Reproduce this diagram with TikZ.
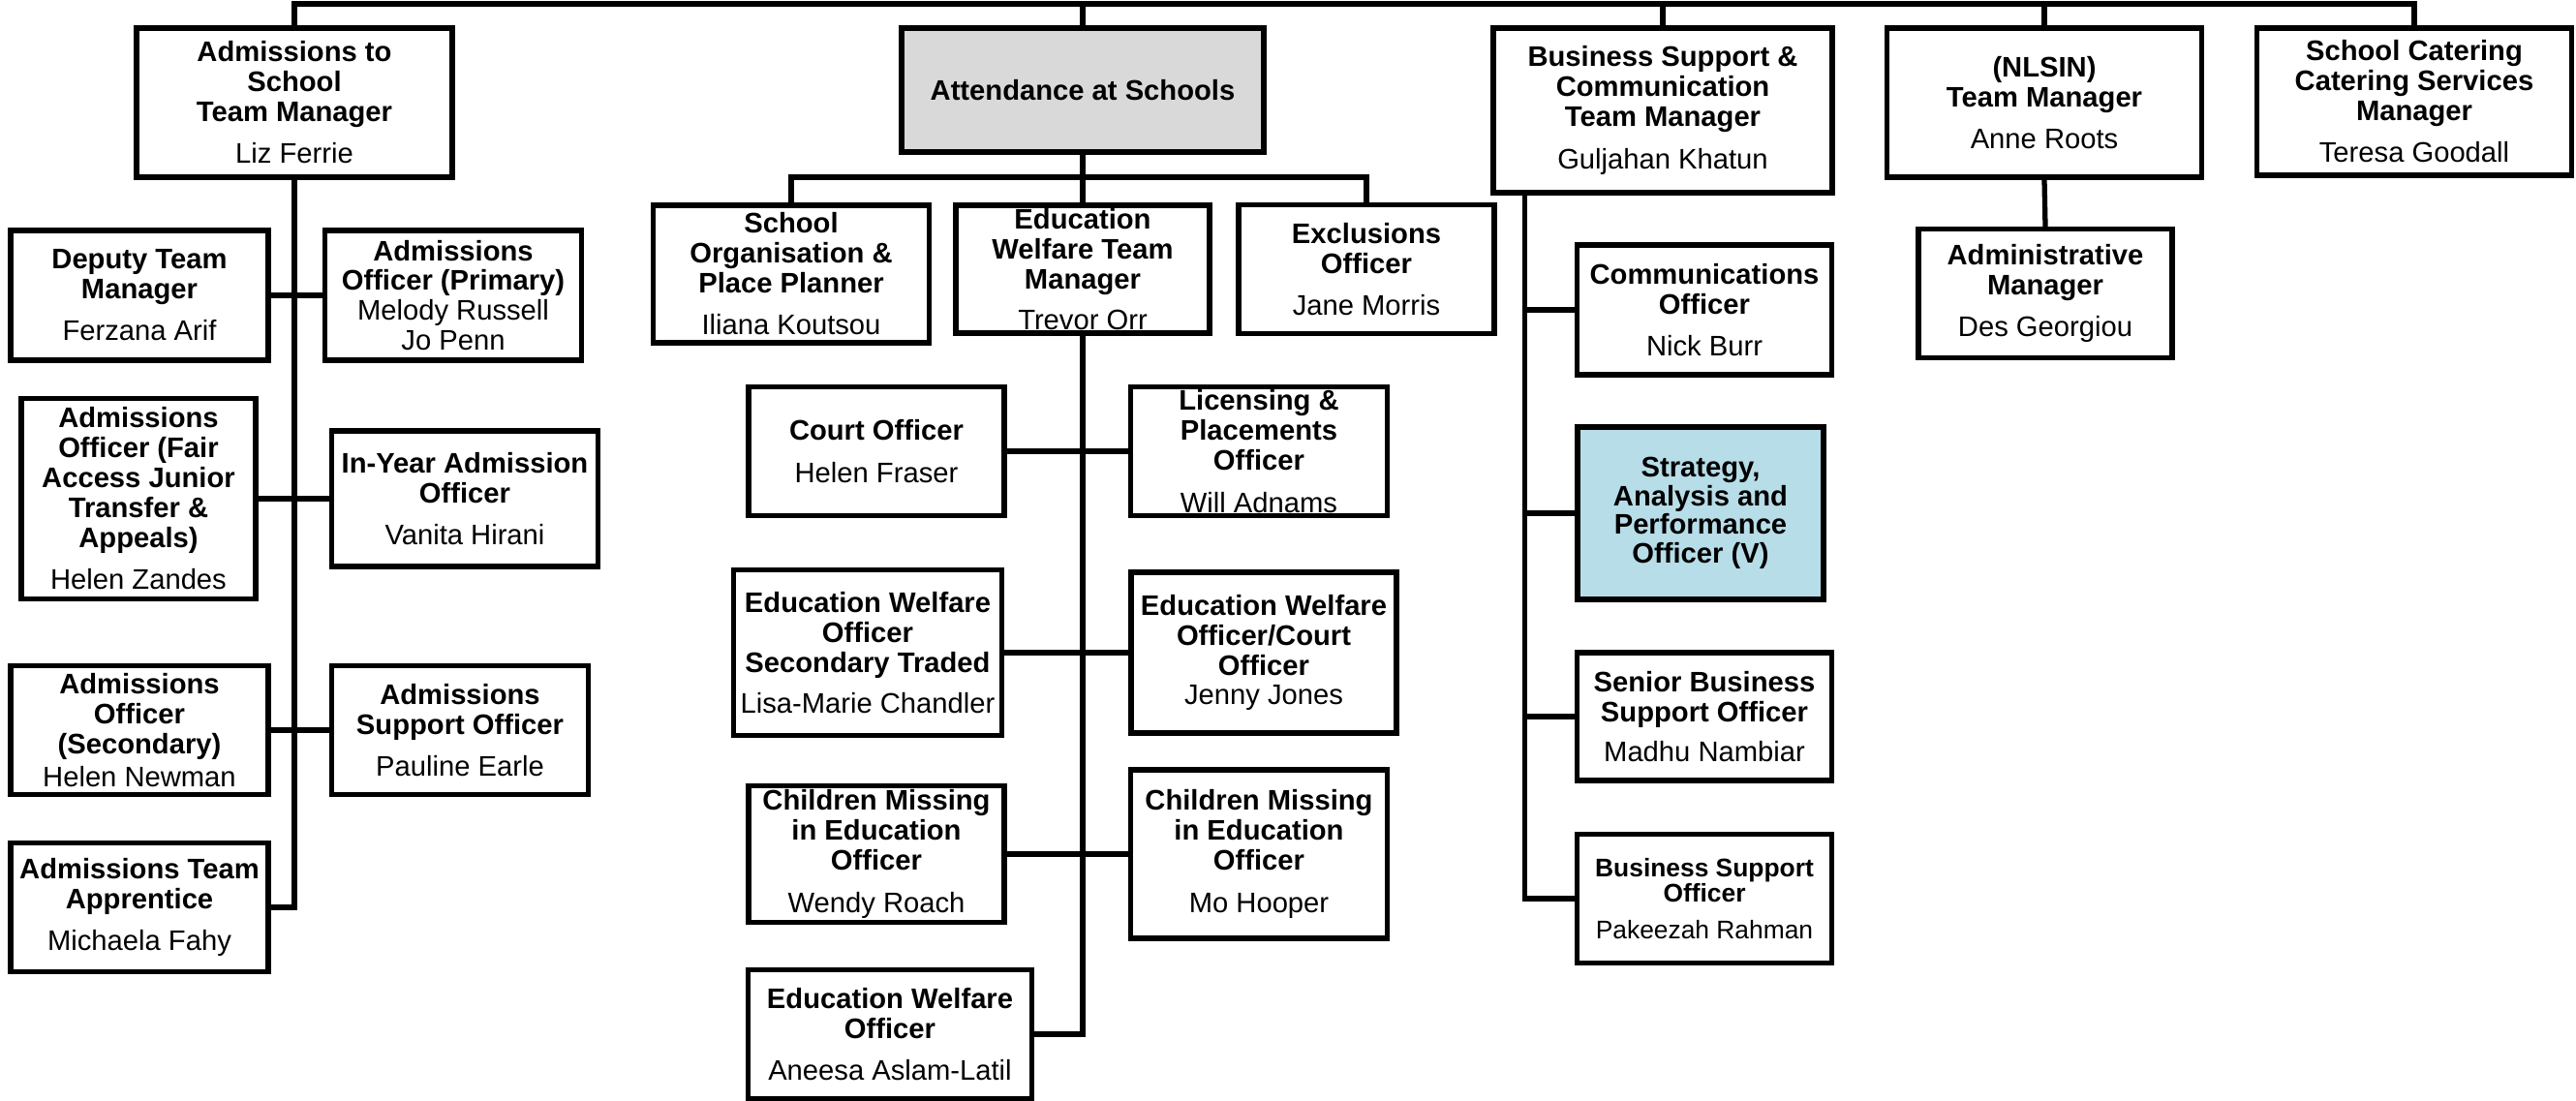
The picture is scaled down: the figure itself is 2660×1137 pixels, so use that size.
\documentclass[tikz,border=0pt]{standalone}
\usepackage{fontspec}
\setmainfont{Liberation Sans}
\definecolor{attgray}{RGB}{217,217,217}
\definecolor{sapblue}{RGB}{183,221,232}
\newcommand\who[1]{{\mdseries #1}}
\tikzset{
  post/.style={draw, line width=1.5pt, align=center, inner sep=0pt,
    font=\fontsize{8.3}{8.8}\selectfont\bfseries},
  link/.style={line width=1.5pt},
}

\begin{document}
\begin{tikzpicture}[x=0.01cm, y=-0.01cm]
            \useasboundingbox (0,0) rectangle (2660,1137);

            % Admissions
            \node[post, minimum width=3.26cm, minimum height=1.54cm] (admmgr) at (304,106) {Admissions to\\School\\Team Manager\\[3.5pt]\who{Liz Ferrie}};
            \node[post, minimum width=2.66cm, minimum height=1.34cm] (deputy) at (144,305) {Deputy Team\\Manager\\[3.5pt]\who{Ferzana Arif}};
            \node[post, minimum width=2.65cm, minimum height=1.34cm] (admprim) at (468,305) {Admissions\\Officer (Primary)\\\who{Melody Russell}\\\who{Jo Penn}};
            \node[post, minimum width=2.42cm, minimum height=2.07cm] (admfair) at (143,515) {Admissions\\Officer (Fair\\Access Junior\\Transfer \&\\Appeals)\\[3.5pt]\who{Helen Zandes}};
            \node[post, minimum width=2.75cm, minimum height=1.40cm] (inyear) at (480,515) {In-Year Admission\\Officer\\[3.5pt]\who{Vanita Hirani}};
            \node[post, minimum width=2.66cm, minimum height=1.33cm] (admsec) at (144,754) {Admissions\\Officer\\(Secondary)\\[1pt]\who{Helen Newman}};
            \node[post, minimum width=2.65cm, minimum height=1.33cm] (admsupp) at (475,754) {Admissions\\Support Officer\\[3.5pt]\who{Pauline Earle}};
            \node[post, minimum width=2.66cm, minimum height=1.33cm] (apprent) at (144,937) {Admissions Team\\Apprentice\\[3.5pt]\who{Michaela Fahy}};

            % Attendance
            \node[post, fill=attgray, minimum width=3.74cm, minimum height=1.28cm] (attend) at (1118,93) {Attendance at Schools};
            \node[post, minimum width=2.85cm, minimum height=1.42cm] (planner) at (817,283) {School\\Organisation \&\\Place Planner\\[3.5pt]\who{Iliana Koutsou}};
            \node[post, minimum width=2.62cm, minimum height=1.32cm] (ewmgr) at (1118,278) {Education\\Welfare Team\\Manager\\[3pt]\who{Trevor Orr}};
            \node[post, minimum width=2.64cm, minimum height=1.33cm] (exclus) at (1411,278) {Exclusions\\Officer\\[3.5pt]\who{Jane Morris}};
            \node[post, minimum width=2.64cm, minimum height=1.33cm] (court) at (905,466) {Court Officer\\[3.5pt]\who{Helen Fraser}};
            \node[post, minimum width=2.65cm, minimum height=1.33cm] (licens) at (1300,466) {Licensing \&\\Placements\\Officer\\[3.5pt]\who{Will Adnams}};
            \node[post, minimum width=2.77cm, minimum height=1.71cm] (ewtraded) at (896,674) {Education Welfare\\Officer\\Secondary Traded\\[3pt]\who{Lisa-Marie Chandler}};
            \node[post, minimum width=2.74cm, minimum height=1.66cm] (ewcourt) at (1305,674) {Education Welfare\\Officer/Court\\Officer\\\who{Jenny Jones}};
            \node[post, minimum width=2.64cm, minimum height=1.41cm] (cmeA) at (905,882) {Children Missing\\in Education\\Officer\\[3.5pt]\who{Wendy Roach}};
            \node[post, minimum width=2.65cm, minimum height=1.74cm] (cmeB) at (1300,882) {Children Missing\\in Education\\Officer\\[3.5pt]\who{Mo Hooper}};
            \node[post, minimum width=2.93cm, minimum height=1.33cm] (ewofficer) at (919,1068) {Education Welfare\\Officer\\[3.5pt]\who{Aneesa Aslam-Latil}};

            % Business Support, NLSIN, Catering
            \node[post, minimum width=3.50cm, minimum height=1.70cm] (bsmgr) at (1717,114) {Business Support \&\\Communication\\Team Manager\\[3.5pt]\who{Guljahan Khatun}};
            \node[post, minimum width=3.25cm, minimum height=1.54cm] (nlsin) at (2111,106) {(NLSIN)\\Team Manager\\[3.5pt]\who{Anne Roots}};
            \node[post, minimum width=3.25cm, minimum height=1.52cm] (catering) at (2493,105) {School Catering\\Catering Services\\Manager\\[3.5pt]\who{Teresa Goodall}};
            \node[post, minimum width=2.62cm, minimum height=1.33cm] (nlsadmin) at (2112,303) {Administrative\\Manager\\[3.5pt]\who{Des Georgiou}};
            \node[post, minimum width=2.63cm, minimum height=1.34cm] (comms) at (1760,320) {Communications\\Officer\\[3.5pt]\who{Nick Burr}};
            \node[post, fill=sapblue, minimum width=2.54cm, minimum height=1.78cm, font=\fontsize{8.3}{8.4}\selectfont\bfseries] (strategy) at (1756,530) {Strategy,\\Analysis and\\Performance\\Officer (V)};
            \node[post, minimum width=2.63cm, minimum height=1.32cm] (seniorbs) at (1760,740) {Senior Business\\Support Officer\\[3pt]\who{Madhu Nambiar}};
            \node[post, minimum width=2.63cm, minimum height=1.33cm, font=\fontsize{7.5}{7.3}\selectfont\bfseries] (bsofficer) at (1760,928) {Business Support\\Officer\\[3.5pt]\who{Pakeezah Rahman}};

            % Top line
            \coordinate (topline) at (0,4);
            \draw[link] (admmgr.north) |- (topline -| catering.north) -- (catering.north);
            \foreach \n in {attend,bsmgr,nlsin} {
                \draw[link] (\n.north) -- (\n.north |- topline);
            }

            % Admissions links
            \draw[link] (admmgr.south) |- (apprent.east);
            \draw[link] (deputy.east) -- (admprim.west);
            \draw[link] (admfair.east) -- (inyear.west);
            \draw[link] (admsec.east) -- (admsupp.west);

            % Attendance links
            \coordinate (attbar) at (1118,183);
            \draw[link] (planner.north) |- (attbar) -| (exclus.north);
            \draw[link] (attend.south) -- (ewmgr.north);
            \draw[link] (ewmgr.south) |- (ewofficer.east);
            \draw[link] (court.east) -- (licens.west);
            \draw[link] (ewtraded.east) -- (ewcourt.west);
            \draw[link] (cmeA.east) -- (cmeB.west);

            % Business Support links
            \coordinate (bstrunk) at ([xshift=0.35cm]bsmgr.south west);
            \draw[link] (bstrunk) |- (bsofficer.west);
            \foreach \n in {comms,strategy,seniorbs} {
                \draw[link] (bstrunk |- \n.west) -- (\n.west);
            }
            \draw[link] (nlsin.south) -- (nlsadmin.north);
        \end{tikzpicture}
\end{document}
